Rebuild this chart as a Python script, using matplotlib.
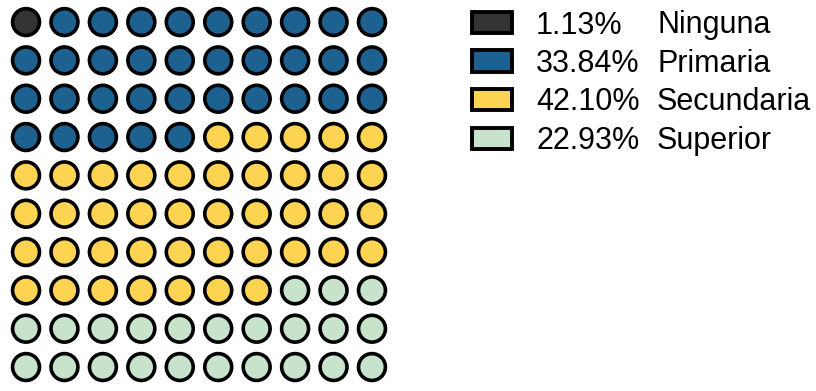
import matplotlib.pyplot as plt
from matplotlib.patches import Circle, Rectangle

# Education level shares, one waffle cell per percent
categories = ['Ninguna', 'Primaria', 'Secundaria', 'Superior']
percentages = [1.13, 33.84, 42.10, 22.93]
cell_counts = [1, 34, 42, 23]
colors = ['#333333', '#1d6190', '#fdd452', '#c7e3cc']

N_COLS = 10
N_ROWS = 10
W, H = 816, 391

plt.rcParams['font.family'] = ['Liberation Sans', 'DejaVu Sans']

fig = plt.figure(figsize=(W / 100, H / 100), dpi=100)

# waffle grid, filled row by row from the top-left corner
ax = fig.add_axes([6.8 / W, 1 - 386.2 / H, 384.4 / W, 383.3 / H])
ax.set_xlim(-0.5, N_COLS - 0.5)
ax.set_ylim(N_ROWS - 0.5, -0.5)
ax.axis('off')

cell = 0
for count, color in zip(cell_counts, colors):
    for _ in range(count):
        row, col = divmod(cell, N_COLS)
        ax.add_patch(Circle((col, row), 0.35, facecolor=color,
                            edgecolor='black', linewidth=2.6))
        cell += 1

# hand-built legend: swatch, percentage, category name
for i, (cat, pct, color) in enumerate(zip(categories, percentages, colors)):
    yc = 22.5 + i * 38.5
    fig.patches.append(Rectangle((472 / W, 1 - (yc + 10.5) / H), 40 / W, 21 / H,
                                 transform=fig.transFigure, facecolor=color,
                                 edgecolor='black', linewidth=2.8))
    fig.text(536 / W, 1 - (yc + 11) / H, f'{pct:.2f}%', fontsize=22,
             va='baseline', ha='left')
    fig.text(657 / W, 1 - (yc + 11) / H, cat, fontsize=22,
             va='baseline', ha='left')

fig.savefig('out.png', dpi=100)
